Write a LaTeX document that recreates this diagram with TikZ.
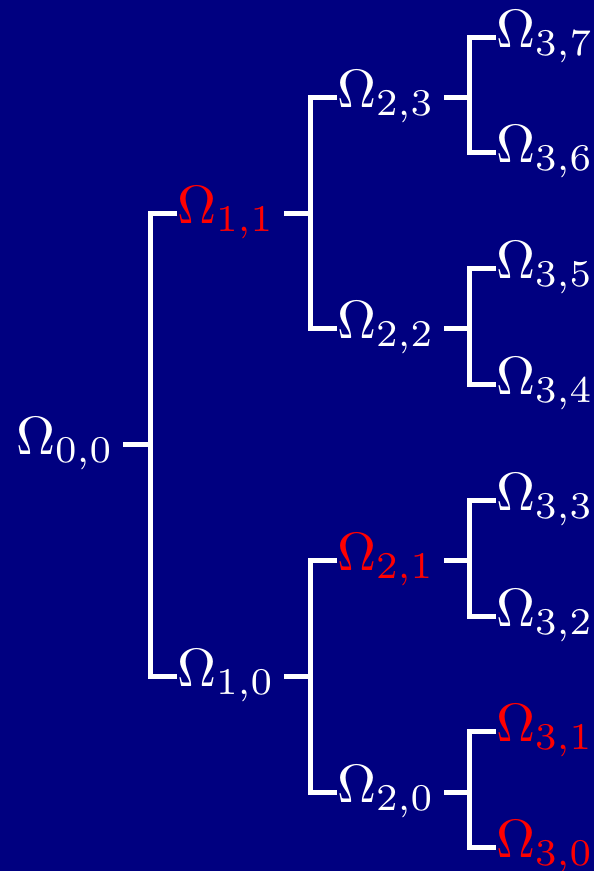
\documentclass[tikz,border=0pt]{standalone}
\usepackage{graphicx}
\definecolor{navybg}{RGB}{0,0,128}
\definecolor{hotred}{RGB}{255,0,0}
\newcommand{\om}[1]{\scalebox{5.4}{$\Omega_{#1}$}}
\begin{document}
\begin{tikzpicture}[x=1pt,y=-1pt,
  lbl/.style={inner sep=0pt, text=white},
  hot/.style={text=hotred},
  edge/.style={draw=white, line width=5pt, line join=miter}]
\fill[navybg] (0,0) rectangle (594,871);
\useasboundingbox (0,0) rectangle (594,871);
% level 0
\node[lbl,anchor=east] (n00) at (114,444) {\om{0,0}};
% level 1
\node[lbl,hot,anchor=west] (n11) at (177,213) {\om{1,1}};
\node[lbl,anchor=west] (n10) at (177,676) {\om{1,0}};
% level 2
\node[lbl,anchor=west] (n23) at (337,97) {\om{2,3}};
\node[lbl,anchor=west] (n22) at (337,328) {\om{2,2}};
\node[lbl,hot,anchor=west] (n21) at (337,560) {\om{2,1}};
\node[lbl,anchor=west] (n20) at (337,792) {\om{2,0}};
% level 3
\node[lbl,anchor=west] (n37) at (496,37) {\om{3,7}};
\node[lbl,anchor=west] (n36) at (496,152) {\om{3,6}};
\node[lbl,anchor=west] (n35) at (496,268) {\om{3,5}};
\node[lbl,anchor=west] (n34) at (496,384) {\om{3,4}};
\node[lbl,anchor=west] (n33) at (496,500) {\om{3,3}};
\node[lbl,anchor=west] (n32) at (496,616) {\om{3,2}};
\node[lbl,hot,anchor=west] (n31) at (496,731) {\om{3,1}};
\node[lbl,hot,anchor=west] (n30) at (496,847) {\om{3,0}};
% edges
\foreach \c/\p in {n11/n00,n10/n00,
                   n23/n11,n22/n11,n21/n10,n20/n10,
                   n37/n23,n36/n23,n35/n22,n34/n22,
                   n33/n21,n32/n21,n31/n20,n30/n20}{
  \draw[edge] (\c.west) -- ++(-27,0) |- ([xshift=9pt]\p.east);
}
\end{tikzpicture}
\end{document}
